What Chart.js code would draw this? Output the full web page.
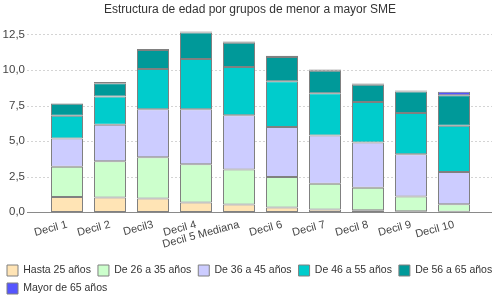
<!DOCTYPE html>
<html>
<head>
<meta charset="utf-8">
<script src="https://cdn.jsdelivr.net/npm/chart.js@4"></script>
<style>
  html, body { margin: 0; padding: 0; background: #fff; }
  #wrap { width: 500px; height: 300px; }
</style>
</head>
<body>
<div id="wrap"><canvas id="chart"></canvas></div>
<script>
const deciles = ["Decil 1", "Decil 2", "Decil3", "Decil 4", "Decil 5 Mediana", "Decil 6", "Decil 7", "Decil 8", "Decil 9", "Decil 10"];
const hasta25 = [1.06, 1.02, 0.95, 0.67, 0.53, 0.32, 0.18, 0.12, 0.05, 0.01];
const de26a35 = [2.13, 2.56, 2.91, 2.70, 2.47, 2.15, 1.81, 1.59, 1.04, 0.54];
const de36a45 = [1.99, 2.57, 3.37, 3.86, 3.82, 3.51, 3.39, 3.19, 2.98, 2.27];
const de46a55 = [1.59, 1.98, 2.84, 3.54, 3.39, 3.22, 2.98, 2.84, 2.91, 3.26];
const de56a65 = [0.86, 0.93, 1.34, 1.87, 1.71, 1.71, 1.58, 1.22, 1.50, 2.15];
const mayor65 = [0.02, 0.09, 0.07, 0.07, 0.09, 0.09, 0.09, 0.09, 0.07, 0.24];
const yTicks = [0, 2.5, 5, 7.5, 10, 12.5];

const FONT = "'Liberation Sans', Arial, sans-serif";
// the grid runs past the first/last category
const EDGE_LEFT = 18.5;
const EDGE_RIGHT = 16.5;

// horizontal dashed grid and base line, wider than the bars' area
const extendedGrid = {
  id: "extendedGrid",
  beforeDatasetsDraw(chart) {
    const { ctx, chartArea, scales: { y } } = chart;
    ctx.save();
    ctx.strokeStyle = "#d4d4d4";
    ctx.lineWidth = 1;
    ctx.setLineDash([2, 2]);
    y.ticks.forEach(t => {
      if (t.value === 0) return;
      const py = Math.round(y.getPixelForValue(t.value)) + 0.5;
      ctx.beginPath();
      ctx.moveTo(chartArea.left - EDGE_LEFT, py);
      ctx.lineTo(chartArea.right + EDGE_RIGHT, py);
      ctx.stroke();
    });
    ctx.restore();
  },
  afterDatasetsDraw(chart) {
    const { ctx, chartArea, scales: { y } } = chart;
    const py = Math.round(y.getPixelForValue(0)) + 0.5;
    ctx.save();
    ctx.strokeStyle = "#8a8a8a";
    ctx.lineWidth = 1;
    ctx.beginPath();
    ctx.moveTo(chartArea.left - EDGE_LEFT, py);
    ctx.lineTo(chartArea.right + EDGE_RIGHT, py);
    ctx.stroke();
    ctx.restore();
  }
};

const series = [
  ["Hasta 25 años", hasta25, "#FFE4B5"],
  ["De 26 a 35 años", de26a35, "#CCFFCC"],
  ["De 36 a 45 años", de36a45, "#CCCCFF"],
  ["De 46 a 55 años", de46a55, "#00CCCC"],
  ["De 56 a 65 años", de56a65, "#009999"],
  ["Mayor de 65 años", mayor65, "#5555FF"]
];

new Chart(document.getElementById("chart"), {
  type: "bar",
  data: {
    labels: deciles,
    datasets: series.map(([label, data, color]) => ({
      label,
      data,
      backgroundColor: color,
      borderColor: "#808080",
      borderWidth: 1,
      borderSkipped: false,
      inflateAmount: 0,
      barThickness: 32
    }))
  },
  options: {
    responsive: true,
    maintainAspectRatio: false,
    animation: false,
    layout: { padding: { left: 0, right: 0, top: 0, bottom: -4 } },
    scales: {
      x: {
        stacked: true,
        grid: { display: false, drawTicks: false },
        border: { display: false },
        ticks: {
          minRotation: 15,
          maxRotation: 15,
          autoSkip: false,
          padding: 6,
          color: "#444",
          font: { family: FONT, size: 11 }
        },
        afterFit: scale => { scale.height = 46; }
      },
      y: {
        stacked: true,
        min: 0,
        max: 13,
        grid: { display: false, drawTicks: false },
        border: { display: false },
        afterBuildTicks: scale => { scale.ticks = yTicks.map(v => ({ value: v })); },
        ticks: {
          padding: 20.5,
          color: "#444",
          font: { family: FONT, size: 11.5 },
          callback: v => v.toFixed(1).replace(".", ",")
        },
        afterFit: scale => { scale.width = 45.5; }
      },
      // empty right-hand strip so the legend keeps the full width
      spacer: {
        position: "right",
        grid: { display: false, drawTicks: false },
        border: { display: false },
        ticks: { display: false },
        afterFit: scale => { scale.width = 24.5; }
      }
    },
    plugins: {
      title: {
        display: true,
        text: "Estructura de edad por grupos de menor a mayor SME",
        color: "#333",
        font: { family: FONT, size: 12, weight: "normal" },
        padding: { top: -1, bottom: 11 }
      },
      legend: {
        position: "bottom",
        align: "start",
        labels: {
          boxWidth: 11,
          boxHeight: 11,
          padding: 7,
          color: "#333",
          font: { family: FONT, size: 10.5 }
        }
      },
      tooltip: { enabled: false }
    }
  },
  plugins: [extendedGrid]
});
</script>
</body>
</html>
